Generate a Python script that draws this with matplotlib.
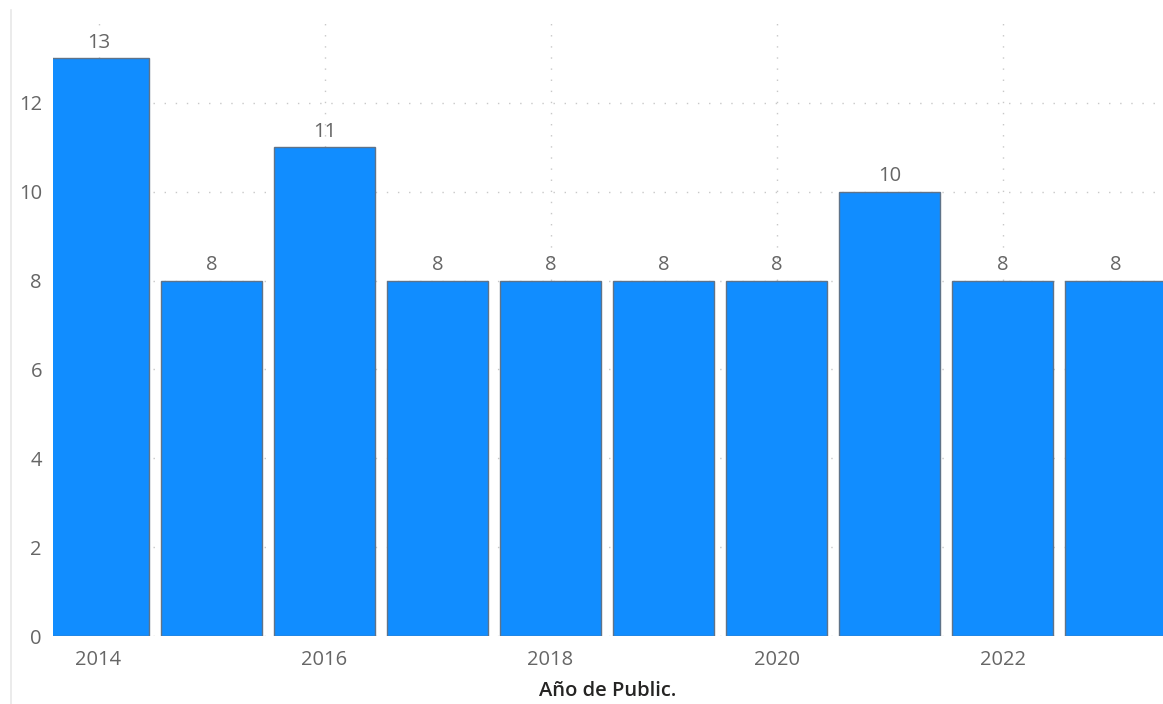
import matplotlib.pyplot as plt
from matplotlib.lines import Line2D

# datos
years = [2014, 2015, 2016, 2017, 2018, 2019, 2020, 2021, 2022, 2023]
counts = [13, 8, 11, 8, 8, 8, 8, 10, 8, 8]
x_ticks = [2014, 2016, 2018, 2020, 2022]
y_ticks = [0, 2, 4, 6, 8, 10, 12]

plt.rcParams["font.family"] = ["Open Sans", "DejaVu Sans"]

fig = plt.figure(figsize=(11.63, 7.04), dpi=100)
ax = fig.add_axes([53 / 1163, 68 / 704, 1 - 53 / 1163, (636 - 14) / 704])

ax.bar(years, counts, width=0.895, color="#118DFF", edgecolor="#5f7389",
       linewidth=1.0, zorder=3)

# etiquetas de datos
for x, v in zip(years, counts):
    ax.annotate(str(v), (x, v), xytext=(0, 4), textcoords="offset points",
                ha="center", va="bottom", fontsize=14.5, color="#666666")

ax.set_xlim(2013.597, 2023.42)
ax.set_ylim(0, 14)
ax.set_xticks(x_ticks)
ax.set_yticks(y_ticks)
ax.tick_params(axis="both", length=0, labelsize=14.5, labelcolor="#666666")
ax.tick_params(axis="x", pad=10)
ax.tick_params(axis="y", pad=8)

ax.grid(True, linestyle=(0, (1, 7)), color="#c8c8c8", linewidth=1.0, zorder=0)
for s in ax.spines.values():
    s.set_visible(False)

ax.set_xlabel("Año de Public.", fontsize=14.5, color="#252423",
              fontweight="semibold", labelpad=8)

# línea del borde izquierdo
fig.add_artist(Line2D([11 / 1163, 11 / 1163], [0, 1 - 10 / 704],
                      transform=fig.transFigure, color="#e8e8e8", linewidth=1.2))

plt.savefig("out.png", dpi=100)
